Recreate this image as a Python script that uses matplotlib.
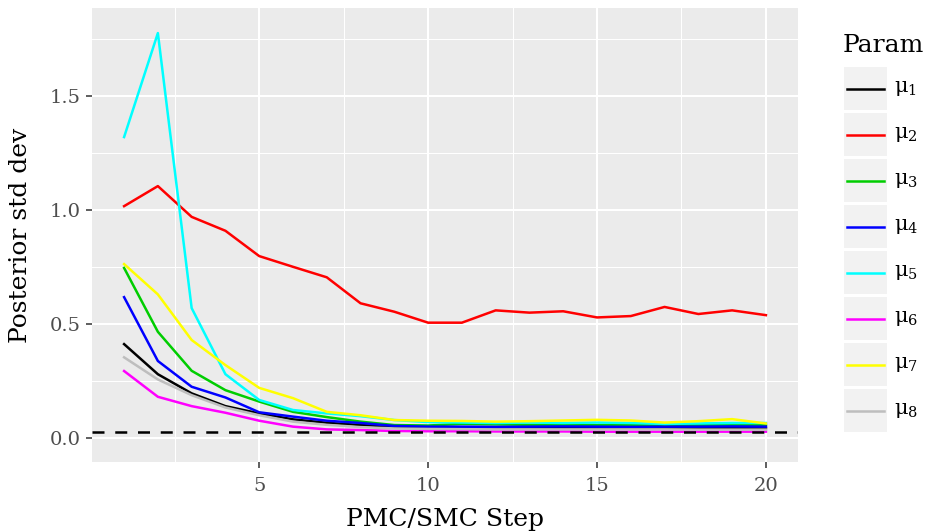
import matplotlib
matplotlib.use("Agg")
import matplotlib.pyplot as plt
from matplotlib.patches import Rectangle
from matplotlib.lines import Line2D
from matplotlib.ticker import MultipleLocator

plt.rcParams['font.family'] = ['DejaVu Serif']
plt.rcParams['mathtext.fontset'] = 'dejavuserif'

steps = list(range(1, 21))
mu1 = [0.412, 0.280, 0.196, 0.140, 0.108, 0.082, 0.067, 0.057, 0.050, 0.048,
       0.047, 0.046, 0.046, 0.045, 0.045, 0.045, 0.044, 0.044, 0.044, 0.044]
mu2 = [1.017, 1.105, 0.970, 0.909, 0.798, 0.751, 0.705, 0.591, 0.554, 0.506,
       0.506, 0.560, 0.550, 0.556, 0.529, 0.535, 0.575, 0.544, 0.560, 0.539]
mu3 = [0.746, 0.466, 0.295, 0.210, 0.160, 0.115, 0.092, 0.072, 0.057, 0.055,
       0.062, 0.060, 0.058, 0.058, 0.057, 0.058, 0.058, 0.057, 0.058, 0.057]
mu4 = [0.618, 0.338, 0.225, 0.178, 0.113, 0.094, 0.076, 0.066, 0.053, 0.050,
       0.050, 0.049, 0.050, 0.051, 0.050, 0.049, 0.050, 0.050, 0.051, 0.050]
mu5 = [1.320, 1.776, 0.570, 0.280, 0.167, 0.123, 0.108, 0.096, 0.079, 0.070,
       0.068, 0.066, 0.068, 0.066, 0.068, 0.066, 0.062, 0.064, 0.066, 0.066]
mu6 = [0.294, 0.181, 0.140, 0.111, 0.076, 0.050, 0.038, 0.035, 0.031, 0.030,
       0.030, 0.029, 0.029, 0.029, 0.028, 0.028, 0.028, 0.028, 0.028, 0.028]
mu7 = [0.763, 0.630, 0.430, 0.320, 0.220, 0.175, 0.115, 0.100, 0.079, 0.076,
       0.075, 0.072, 0.074, 0.077, 0.080, 0.077, 0.068, 0.074, 0.083, 0.064]
mu8 = [0.354, 0.257, 0.188, 0.134, 0.100, 0.072, 0.058, 0.048, 0.042, 0.040,
       0.039, 0.038, 0.038, 0.038, 0.038, 0.038, 0.038, 0.037, 0.037, 0.037]
series = [mu1, mu2, mu3, mu4, mu5, mu6, mu7, mu8]
labels = [r'μ$_{%d}$' % i for i in range(1, 9)]
colors = ['#000000', '#FF0000', '#00CD00', '#0000FF', '#00FFFF', '#FF00FF', '#FFFF00', '#BEBEBE']
threshold = 0.025
xticks = [5, 10, 15, 20]
yticks = [0.0, 0.5, 1.0, 1.5]
yticklabels = ['0.0', '0.5', '1.0', '1.5']

W, H = 928, 531
fig = plt.figure(figsize=(W / 100, H / 100), dpi=100)
L, R, T, B = 92, 798, 8, 462
ax = fig.add_axes([L / W, 1 - B / H, (R - L) / W, (B - T) / H])
ax.set_facecolor('#EBEBEB')
for s in ax.spines.values():
    s.set_visible(False)

ax.set_xlim(0.05, 20.95)
ax.set_ylim(-0.105, 1.886)
ax.set_xticks(xticks)
ax.set_yticks(yticks)
ax.set_yticklabels(yticklabels)
ax.xaxis.set_minor_locator(MultipleLocator(2.5))
ax.yaxis.set_minor_locator(MultipleLocator(0.25))
ax.grid(which='major', color='white', linewidth=1.5)
ax.grid(which='minor', color='white', linewidth=0.75)
ax.set_axisbelow(True)
ax.tick_params(which='major', length=4, width=1.1, color='#333333', labelcolor='#4D4D4D',
               labelsize=14)
ax.tick_params(axis='x', which='major', pad=7)
ax.tick_params(axis='y', which='major', pad=4)
ax.tick_params(which='minor', length=0)

for vals, col in zip(series, colors):
    ax.plot(steps, vals, color=col, linewidth=1.8, solid_joinstyle='round')
ax.axhline(threshold, color='black', linewidth=1.8, linestyle=(0, (4.8, 4.3)))

ax.set_xlabel('PMC/SMC Step', fontsize=18, labelpad=9)
ax.set_ylabel('Posterior std dev', fontsize=18, labelpad=13)

# legend
fig.text(843 / W, 1 - 45 / H, 'Param', fontsize=18, ha='left', va='center')
for i, (lab, col) in enumerate(zip(labels, colors)):
    top = 67 + 46 * i
    fig.add_artist(Rectangle((844 / W, 1 - (top + 43) / H), 43 / W, 43 / H,
                             transform=fig.transFigure, facecolor='#F2F2F2', edgecolor='none'))
    yc = 1 - (top + 21.5) / H
    fig.add_artist(Line2D([847 / W, 884 / W], [yc, yc], transform=fig.transFigure,
                          color=col, linewidth=1.8))
    fig.text(894 / W, yc, lab, fontsize=15, ha='left', va='center')

fig.savefig('out.png', dpi=100)
